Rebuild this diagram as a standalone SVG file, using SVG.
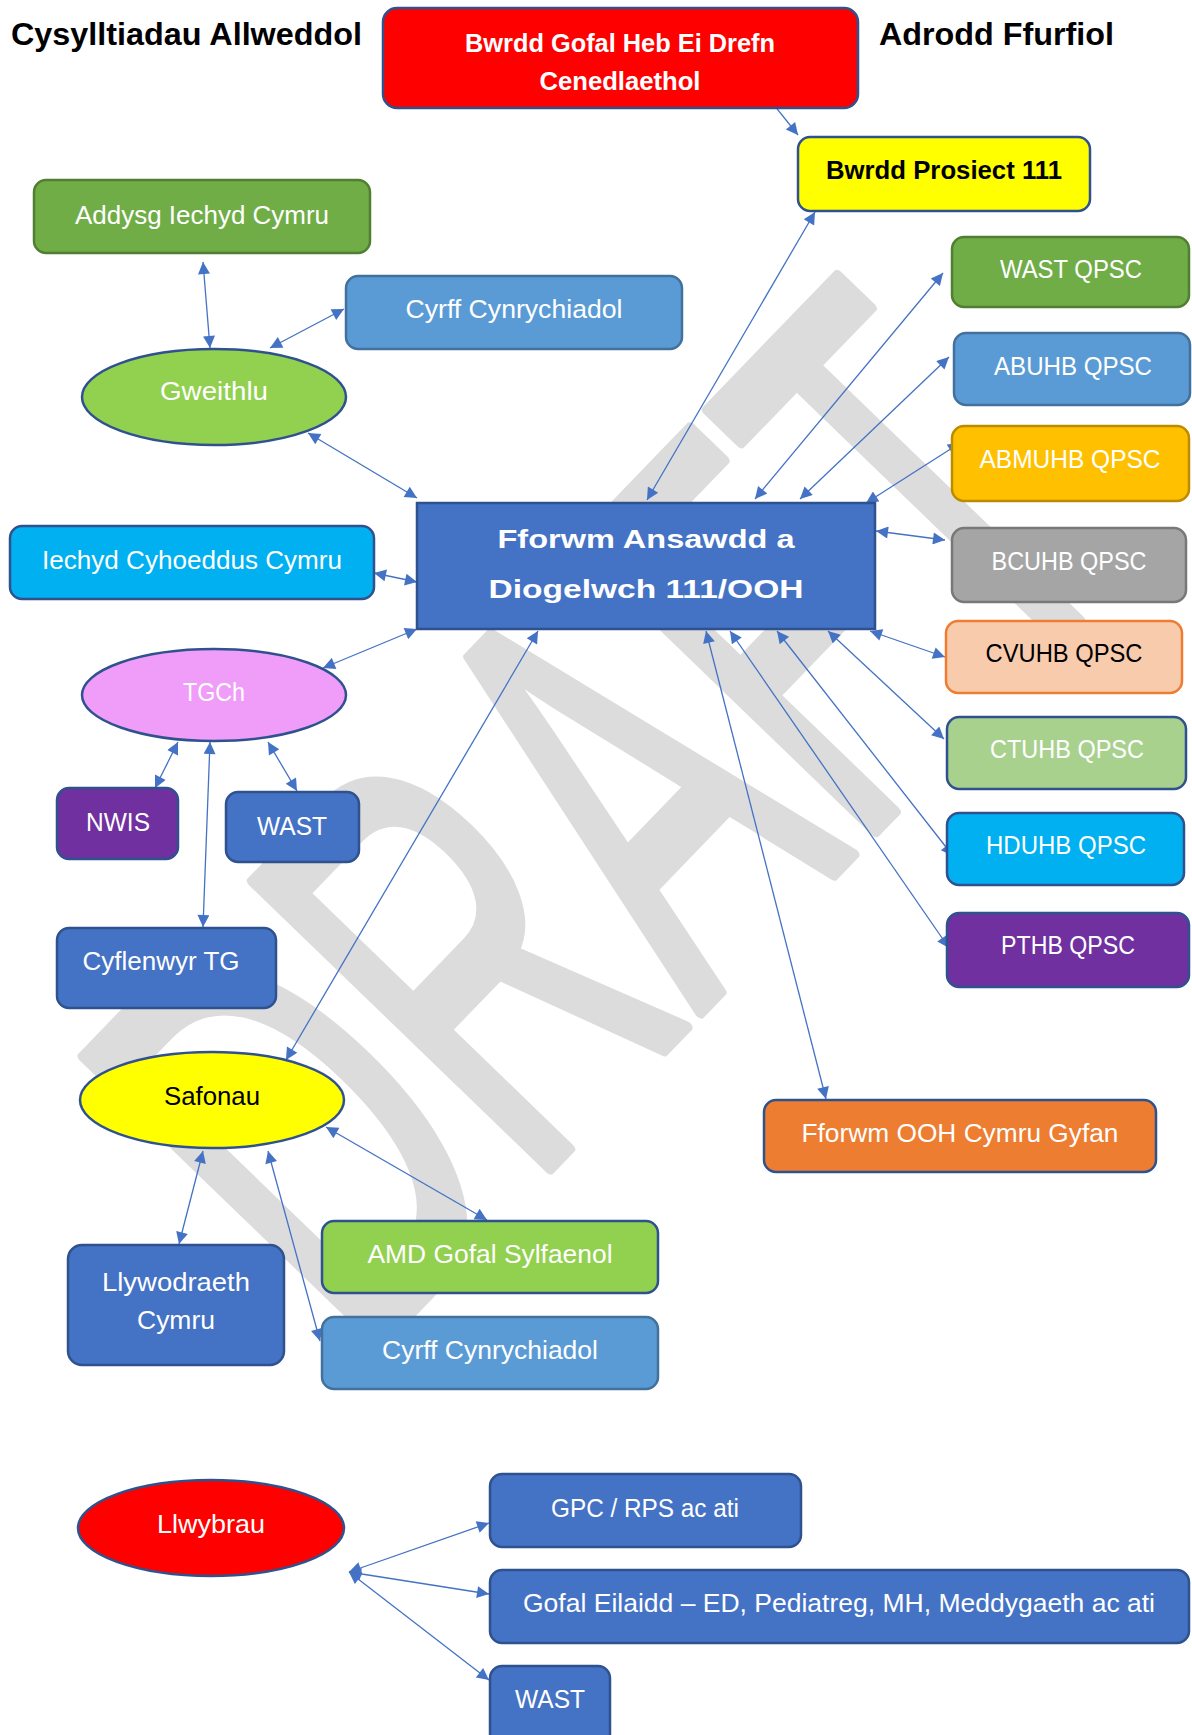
<svg xmlns="http://www.w3.org/2000/svg" width="1192" height="1735" viewBox="0 0 1192 1735">
<style>
text{font-family:"Liberation Sans",Arial,sans-serif;}
.lbl{font-size:26px;fill:#fff;text-anchor:middle;}
.blk{fill:#000;}
.bold{font-weight:bold;}
.node{stroke-width:2.5;}
.c line{stroke:#4472C4;stroke-width:1.3;marker-start:url(#ah);marker-end:url(#ah);}
.wm{font-size:600px;fill:#DCDCDC;stroke:#DCDCDC;stroke-width:12;stroke-linejoin:round;}
</style>
<defs>
<marker id="ah" viewBox="0 0 10 10" refX="10" refY="5" markerWidth="15" markerHeight="12" markerUnits="userSpaceOnUse" orient="auto-start-reverse">
<path d="M0,0 L10,5 L0,10 z" fill="#4472C4"/>
</marker>
</defs>
<rect width="1192" height="1735" fill="#fff"/>
<g id="watermark">
<text class="wm" transform="translate(360,1365) rotate(-46)" textLength="1125" lengthAdjust="spacingAndGlyphs">DRAFT</text>
</g>
<g id="titles">
<text class="bold" x="11" y="45" font-size="32" textLength="351" lengthAdjust="spacingAndGlyphs">Cysylltiadau Allweddol</text>
<text class="bold" x="879" y="45" font-size="32" textLength="235" lengthAdjust="spacingAndGlyphs">Adrodd Ffurfiol</text>
</g>
<g class="c" id="connectors">
<line x1="758" y1="85" x2="798" y2="135"/>
<line x1="815" y1="212" x2="647" y2="500"/>
<line x1="943" y1="273" x2="755" y2="499"/>
<line x1="949" y1="357" x2="800" y2="499"/>
<line x1="960" y1="443" x2="866" y2="503"/>
<line x1="876" y1="531" x2="945" y2="540"/>
<line x1="870" y1="631" x2="945" y2="657"/>
<line x1="828" y1="631" x2="944" y2="739"/>
<line x1="777" y1="631" x2="953" y2="856"/>
<line x1="730" y1="631" x2="949" y2="948"/>
<line x1="706" y1="631" x2="826" y2="1099"/>
<line x1="203" y1="262" x2="210" y2="348"/>
<line x1="344" y1="309" x2="270" y2="348"/>
<line x1="308" y1="433" x2="417" y2="498"/>
<line x1="374" y1="573" x2="417" y2="582"/>
<line x1="323" y1="668" x2="417" y2="629"/>
<line x1="155" y1="788" x2="178" y2="742"/>
<line x1="297" y1="791" x2="268" y2="742"/>
<line x1="210" y1="742" x2="203" y2="927"/>
<line x1="286" y1="1060" x2="538" y2="631"/>
<line x1="203" y1="1151" x2="179" y2="1244"/>
<line x1="268" y1="1151" x2="320" y2="1341"/>
<line x1="326" y1="1127" x2="487" y2="1220"/>
<line x1="349" y1="1572" x2="489" y2="1523"/>
<line x1="349" y1="1572" x2="489" y2="1594"/>
<line x1="349" y1="1572" x2="489" y2="1680"/>
</g>
<g id="n-bwrdd-gofal">
<rect class="node" x="383" y="8" width="475" height="100" rx="14" fill="#FF0000" stroke="#2F528F"/>
<text class="lbl bold" x="620" y="52" font-size="25.5" textLength="310" lengthAdjust="spacingAndGlyphs">Bwrdd Gofal Heb Ei Drefn</text>
<text class="lbl bold" x="620" y="90" font-size="25.5" textLength="161" lengthAdjust="spacingAndGlyphs">Cenedlaethol</text>
</g>
<g id="n-bwrdd-prosiect">
<rect class="node" x="798" y="137" width="292" height="74" rx="12" fill="#FFFF00" stroke="#2F528F"/>
<text class="lbl blk bold" x="944" y="179" font-size="27" textLength="236" lengthAdjust="spacingAndGlyphs">Bwrdd Prosiect 111</text>
</g>
<g id="n-wast-qpsc">
<rect class="node" x="952" y="237" width="237" height="70" rx="12" fill="#70AD47" stroke="#507E32"/>
<text class="lbl" x="1071" y="278" textLength="142" lengthAdjust="spacingAndGlyphs">WAST QPSC</text>
</g>
<g id="n-abuhb">
<rect class="node" x="954" y="333" width="236" height="72" rx="12" fill="#5B9BD5" stroke="#41719C"/>
<text class="lbl" x="1073" y="375" textLength="158" lengthAdjust="spacingAndGlyphs">ABUHB QPSC</text>
</g>
<g id="n-abmuhb">
<rect class="node" x="952" y="426" width="237" height="75" rx="12" fill="#FFC000" stroke="#BC8C00"/>
<text class="lbl" x="1070" y="468" textLength="181" lengthAdjust="spacingAndGlyphs">ABMUHB QPSC</text>
</g>
<g id="n-bcuhb">
<rect class="node" x="952" y="528" width="234" height="74" rx="12" fill="#A5A5A5" stroke="#787878"/>
<text class="lbl" x="1069" y="570" textLength="155" lengthAdjust="spacingAndGlyphs">BCUHB QPSC</text>
</g>
<g id="n-cvuhb">
<rect class="node" x="946" y="621" width="236" height="72" rx="12" fill="#F8CBAD" stroke="#ED7D31" stroke-width="1.5"/>
<text class="lbl blk" x="1064" y="662" textLength="157" lengthAdjust="spacingAndGlyphs">CVUHB QPSC</text>
</g>
<g id="n-ctuhb">
<rect class="node" x="947" y="717" width="239" height="72" rx="12" fill="#A9D18E" stroke="#2F528F"/>
<text class="lbl" x="1067" y="758" textLength="154" lengthAdjust="spacingAndGlyphs">CTUHB QPSC</text>
</g>
<g id="n-hduhb">
<rect class="node" x="947" y="813" width="237" height="72" rx="12" fill="#00B0F0" stroke="#2F528F"/>
<text class="lbl" x="1066" y="854" textLength="160" lengthAdjust="spacingAndGlyphs">HDUHB QPSC</text>
</g>
<g id="n-pthb">
<rect class="node" x="947" y="913" width="242" height="74" rx="12" fill="#7030A0" stroke="#2F528F"/>
<text class="lbl" x="1068" y="954" textLength="134" lengthAdjust="spacingAndGlyphs">PTHB QPSC</text>
</g>
<g id="n-fforwm-ooh">
<rect class="node" x="764" y="1100" width="392" height="72" rx="12" fill="#ED7D31" stroke="#2F528F"/>
<text class="lbl" x="960" y="1142" textLength="317" lengthAdjust="spacingAndGlyphs">Fforwm OOH Cymru Gyfan</text>
</g>
<g id="n-addysg">
<rect class="node" x="34" y="180" width="336" height="73" rx="12" fill="#70AD47" stroke="#507E32"/>
<text class="lbl" x="202" y="224" textLength="254" lengthAdjust="spacingAndGlyphs">Addysg Iechyd Cymru</text>
</g>
<g id="n-cyrff-top">
<rect class="node" x="346" y="276" width="336" height="73" rx="12" fill="#5B9BD5" stroke="#41719C"/>
<text class="lbl" x="514" y="318" textLength="217" lengthAdjust="spacingAndGlyphs">Cyrff Cynrychiadol</text>
</g>
<g id="n-gweithlu">
<ellipse class="node" cx="214" cy="397" rx="132" ry="48" fill="#92D050" stroke="#2F528F"/>
<text class="lbl" x="214" y="400" textLength="108" lengthAdjust="spacingAndGlyphs">Gweithlu</text>
</g>
<g id="n-iechyd">
<rect class="node" x="10" y="526" width="364" height="73" rx="12" fill="#00B0F0" stroke="#2F528F"/>
<text class="lbl" x="192" y="569" textLength="300" lengthAdjust="spacingAndGlyphs">Iechyd Cyhoeddus Cymru</text>
</g>
<g id="n-fforwm">
<rect class="node" x="417" y="503" width="458" height="126" fill="#4472C4" stroke="#2F528F"/>
<text class="lbl bold" x="646" y="548" font-size="30.5" textLength="297" lengthAdjust="spacingAndGlyphs">Fforwm Ansawdd a</text>
<text class="lbl bold" x="646" y="598" font-size="30.5" textLength="315" lengthAdjust="spacingAndGlyphs">Diogelwch 111/OOH</text>
</g>
<g id="n-tgch">
<ellipse class="node" cx="214" cy="695" rx="132" ry="46" fill="#EF9DF9" stroke="#2F528F"/>
<text class="lbl" x="214" y="701" textLength="62" lengthAdjust="spacingAndGlyphs">TGCh</text>
</g>
<g id="n-nwis">
<rect class="node" x="57" y="788" width="121" height="71" rx="12" fill="#7030A0" stroke="#2F528F"/>
<text class="lbl" x="118" y="831" textLength="64" lengthAdjust="spacingAndGlyphs">NWIS</text>
</g>
<g id="n-wast">
<rect class="node" x="226" y="792" width="133" height="70" rx="12" fill="#4472C4" stroke="#2F528F"/>
<text class="lbl" x="292" y="835" textLength="70" lengthAdjust="spacingAndGlyphs">WAST</text>
</g>
<g id="n-cyflenwyr">
<rect class="node" x="57" y="928" width="219" height="80" rx="12" fill="#4472C4" stroke="#2F528F"/>
<text class="lbl" x="161" y="970" textLength="157" lengthAdjust="spacingAndGlyphs">Cyflenwyr TG</text>
</g>
<g id="n-safonau">
<ellipse class="node" cx="212" cy="1100" rx="132" ry="48" fill="#FFFF00" stroke="#2F528F"/>
<text class="lbl blk" x="212" y="1105" textLength="96" lengthAdjust="spacingAndGlyphs">Safonau</text>
</g>
<g id="n-amd">
<rect class="node" x="322" y="1221" width="336" height="72" rx="12" fill="#92D050" stroke="#2F528F"/>
<text class="lbl" x="490" y="1263" textLength="245" lengthAdjust="spacingAndGlyphs">AMD Gofal Sylfaenol</text>
</g>
<g id="n-llywodraeth">
<rect class="node" x="68" y="1245" width="216" height="120" rx="14" fill="#4472C4" stroke="#2F528F"/>
<text class="lbl" x="176" y="1291" textLength="148" lengthAdjust="spacingAndGlyphs">Llywodraeth</text>
<text class="lbl" x="176" y="1329" textLength="78" lengthAdjust="spacingAndGlyphs">Cymru</text>
</g>
<g id="n-cyrff-lower">
<rect class="node" x="322" y="1317" width="336" height="72" rx="12" fill="#5B9BD5" stroke="#41719C"/>
<text class="lbl" x="490" y="1359" textLength="216" lengthAdjust="spacingAndGlyphs">Cyrff Cynrychiadol</text>
</g>
<g id="n-llwybrau">
<ellipse class="node" cx="211" cy="1528" rx="133" ry="48" fill="#FF0000" stroke="#2F528F"/>
<text class="lbl" x="211" y="1533" textLength="108" lengthAdjust="spacingAndGlyphs">Llwybrau</text>
</g>
<g id="n-gpc">
<rect class="node" x="490" y="1474" width="311" height="73" rx="12" fill="#4472C4" stroke="#2F528F"/>
<text class="lbl" x="645" y="1517" textLength="188" lengthAdjust="spacingAndGlyphs">GPC / RPS ac ati</text>
</g>
<g id="n-gofal-eilaidd">
<rect class="node" x="490" y="1570" width="699" height="73" rx="12" fill="#4472C4" stroke="#2F528F"/>
<text class="lbl" x="839" y="1612" textLength="632" lengthAdjust="spacingAndGlyphs">Gofal Eilaidd – ED, Pediatreg, MH, Meddygaeth ac ati</text>
</g>
<g id="n-wast-bottom">
<rect class="node" x="490" y="1666" width="120" height="80" rx="12" fill="#4472C4" stroke="#2F528F"/>
<text class="lbl" x="550" y="1708" textLength="70" lengthAdjust="spacingAndGlyphs">WAST</text>
</g>
</svg>
